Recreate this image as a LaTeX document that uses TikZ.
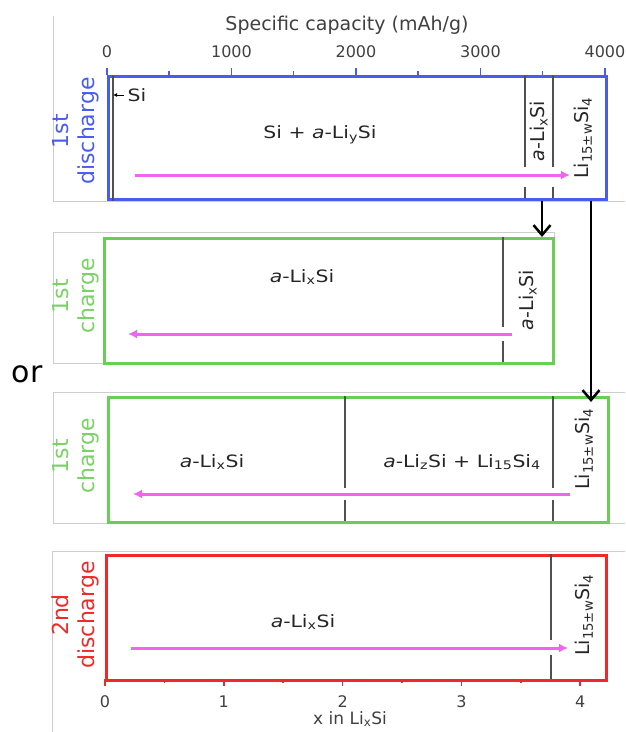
\documentclass[tikz,border=0pt]{standalone}
\usepackage{fontspec}
\setmainfont{DejaVu Sans}
\newfontfamily\widesf{DejaVu Sans}[FakeStretch=1.2]
\usetikzlibrary{arrows.meta,scopes,positioning}
\definecolor{cblue}{RGB}{72,92,240}
\definecolor{cgreen}{RGB}{104,206,86}
\definecolor{cgreenl}{RGB}{120,210,100}
\definecolor{cred}{RGB}{240,40,40}
\definecolor{cmag}{RGB}{240,100,240}
\definecolor{cdiv}{RGB}{80,80,80}
\definecolor{cframe}{RGB}{205,205,205}
\tikzset{
  >= Latex,
  pn/.style={draw=#1, line width=2.6pt, anchor=north west, inner sep=0pt},
  tl/.style={rotate=90, align=center, text=#1, font=\fontsize{22}{26}\selectfont},
  ph/.style={text=black!85, font={\widesf\fontsize{17}{20}\selectfont}},
  pv/.style={rotate=90, text=black!85, font=\fontsize{19}{22}\selectfont},
  tn/.style={text=black!75, font=\fontsize{16}{19}\selectfont},
  dv/.style={draw=cdiv, line width=2.2pt},
  mg/.style={draw=cmag, line width=3pt, -{Latex[length=9pt,width=9pt]}},
  dn/.style={line width=2.5pt, -{Straight Barb[length=10pt,width=17pt]}},
  fr/.style={draw=cframe, line width=0.8pt}
}
\begin{document}
\begin{tikzpicture}[x=1pt, y=-1pt]
  \useasboundingbox (0,0) rectangle (625,732);
  % image frames
  \draw[fr] (53,16) -- (53,201) -- (625,201);
  \draw[fr] (53,232) rectangle (554,363);
  \draw[fr] (625,392) -- (53,392) -- (53,523) -- (625,523);
  \draw[fr] (625,551) -- (52,551) -- (52,732);

  % panels
  \node[pn=cblue, minimum width=498pt, minimum height=123pt] (p1) at (107,75) {};
  \node[pn=cgreen, minimum width=449pt, minimum height=125pt] (p2) at (103,237) {};
  \node[pn=cgreen, minimum width=500pt, minimum height=125pt] (p3) at (107,396) {};
  \node[pn=cred, minimum width=500pt, minimum height=125pt] (p4) at (105,554) {};

  % top axis
  \node[tn, font=\fontsize{19}{22}\selectfont] (cap) at (347,25) {Specific capacity (mAh/g)};
  \foreach \v in {0,1000,2000,3000,4000} {
    \draw[cblue, line width=1.5pt] ({107+0.1245*\v},75) -- ++(0,-7);
    \node[tn] (t\v) at ({107+0.1245*\v},52) {\v};
  }
  \foreach \v in {500,1500,2500,3500}
    \draw[cblue, line width=1.5pt] ({107+0.1245*\v},75) -- ++(0,-4);

  % 1st discharge
  \node[tl=cblue] (l1) at (76,131) {1st\\discharge};
  \coordinate (s0) at (113,75);
  \draw[dv] (s0) -- (s0 |- p1.south);
  \draw[dv] (525,75) -- (525,167) (525,187) -- (525,198);
  \draw[dv] (553,75) -- (553,167) (553,187) -- (553,198);
  \node[ph] (si) at (137,95) {Si};
  \draw[line width=1pt, -{Latex[length=4pt,width=4pt]}] (si.west) -- (si.west -| s0);
  \node[ph] (m1) at (320,135) {Si + \textit{a}-Li\textsubscript{y}Si};
  \node[pv] (v1) at (539,131) {\textit{a}-Li\textsubscript{x}Si};
  \node[pv] (w1) at (583,138) {Li\textsubscript{15±w}Si\textsubscript{4}};
  \draw[mg] (135,175) -- (570,175);

  % 1st charge (a)
  \node[tl=cgreenl] (l2) at (76,296) {1st\\charge};
  \draw[dv] (503,237) -- (503,327) (503,341) -- (503,362);
  \node[ph] (m2) at (302,277) {\textit{a}-Li\textsubscript{x}Si};
  \node[pv] (v2) at (528,300) {\textit{a}-Li\textsubscript{x}Si};
  \draw[mg] (512,334) -- (128,334);

  \node[font=\fontsize{30}{34}\selectfont] (or) at (27,374) {or};

  % 1st charge (b)
  \node[tl=cgreenl] (l3) at (76,456) {1st\\charge};
  \draw[dv] (345,396) -- (345,488) (345,500) -- (345,521);
  \draw[dv] (553,396) -- (553,488) (553,500) -- (553,521);
  \node[ph] (m3) at (212,462) {\textit{a}-Li\textsubscript{x}Si};
  \node[ph] (n3) at (462,462) {\textit{a}-Li\textsubscript{z}Si + Li\textsubscript{15}Si\textsubscript{4}};
  \node[pv] (w3) at (584,449) {Li\textsubscript{15±w}Si\textsubscript{4}};
  \draw[mg] (570,494) -- (133,494);

  % 2nd discharge
  \node[tl=cred] (l4) at (75,615) {2nd\\discharge};
  \draw[dv] (551,554) -- (551,640) (551,655) -- (551,679);
  \node[ph] (m4) at (303,622) {\textit{a}-Li\textsubscript{x}Si};
  \node[pv] (w4) at (584,615) {Li\textsubscript{15±w}Si\textsubscript{4}};
  \draw[mg] (131,648) -- (568,648);

  % bottom axis
  \foreach \k in {0,...,4} {
    \draw[cred, line width=1.5pt] ({105+118.8*\k},679) -- ++(0,7);
    \node[tn] (b\k) at ({105+118.8*\k},702) {\k};
  }
  \foreach \k in {0.5,1.5,2.5,3.5}
    \draw[cred, line width=1.5pt] ({105+118.8*\k},679) -- ++(0,4);
  \node[tn, font=\fontsize{17}{20}\selectfont] (xl) at (350,719) {x in Li\textsubscript{x}Si};

  % transitions
  \coordinate (c1) at (542,0);
  \coordinate (c2) at (591,0);
  {[black]
  \draw[dn] (c1 |- p1.south) -- (c1 |- p2.north);
  \draw[dn] (c2 |- p1.south) -- ([yshift=-6pt]c2 |- p3.north);
  }
\end{tikzpicture}
\end{document}
